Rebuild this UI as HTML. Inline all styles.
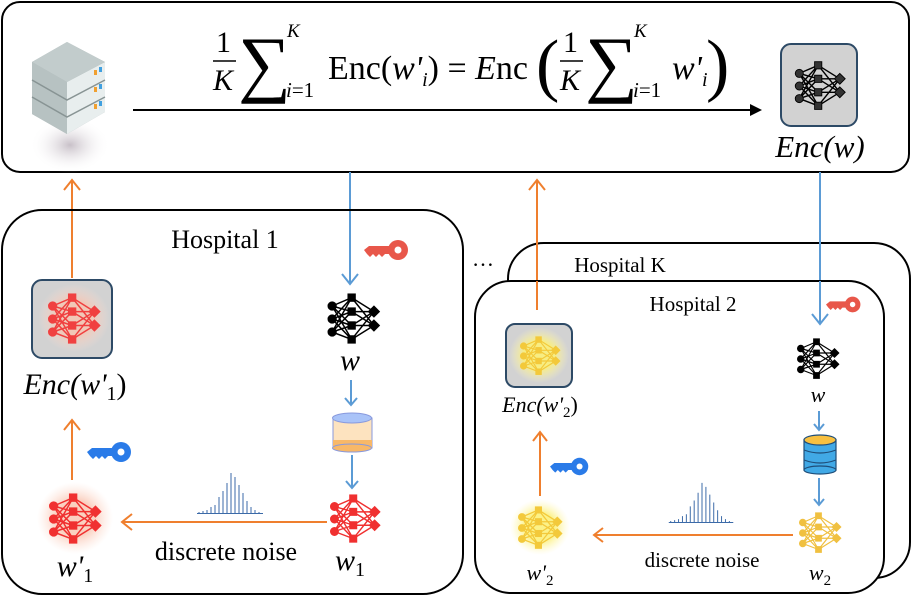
<!DOCTYPE html>
<html><head><meta charset="utf-8"><style>
body{margin:0;background:#fff}
svg text{font-family:"Liberation Serif",serif}
.m{font-family:"Liberation Serif",serif;font-style:italic}
.u{font-family:"Liberation Serif",serif;font-style:normal}
</style></head><body>
<svg width="913" height="596" viewBox="0 0 913 596" xmlns="http://www.w3.org/2000/svg">
<defs>
<symbol id="nn" viewBox="0 0 60 56">
<g stroke-width="1.6" fill="none">
<path d="M7 14L28 5M7 14L28 20M7 14L28 35M7 14L28 50M7 28L28 5M7 28L28 20M7 28L28 35M7 28L28 50M7 42L28 5M7 42L28 20M7 42L28 35M7 42L28 50M28 5L52 20M28 20L52 20M28 35L52 20M28 50L52 20M28 5L52 35M28 20L52 35M28 35L52 35M28 50L52 35"/>
</g>
<circle cx="7" cy="14" r="4.5"/><circle cx="7" cy="28" r="4.5"/><circle cx="7" cy="42" r="4.5"/>
<rect x="24" y="1" width="8" height="8"/><rect x="24" y="16" width="8" height="8"/><rect x="24" y="31" width="8" height="8"/><rect x="24" y="46" width="8" height="8"/>
<path d="M52 14l6 6-6 6-6-6z M52 29l6 6-6 6-6-6z"/>
</symbol>
<symbol id="key" viewBox="0 0 46 24">
<circle cx="34" cy="12" r="10"/><circle cx="34" cy="12" r="3.5" fill="#fff"/>
<path d="M0 12l5-4h22v8h-6l-3 3-3-3-3 3-3-3-3 3-3-3z"/>
</symbol>
<symbol id="hist" viewBox="0 0 68 44">
<g stroke="#3b6aa8" stroke-width="1">
<path d="M2 43v-1M6 43v-2M10 43v-3M14 43v-6M18 43v-8M22 43v-16M26 43v-22M30 43v-30M34 43v-40M38 43v-36M42 43v-28M46 43v-20M50 43v-12M54 43v-6M58 43v-3M62 43v-1M0 43.5h66"/>
</g>
</symbol>
<radialGradient id="glowR"><stop offset="0.5" stop-color="#f9c4b0" stop-opacity="0.8"/><stop offset="1" stop-color="#fde0d4" stop-opacity="0"/></radialGradient>
<radialGradient id="glowY"><stop offset="0.5" stop-color="#fbf07a" stop-opacity="0.9"/><stop offset="1" stop-color="#fff8c0" stop-opacity="0"/></radialGradient>
<radialGradient id="sg"><stop offset="0" stop-color="#c8c0c8"/><stop offset="1" stop-color="#fff" stop-opacity="0"/></radialGradient>
</defs>

<rect x="2" y="2" width="907" height="170" rx="18" fill="#fff" stroke="#000" stroke-width="2"/>
<ellipse cx="70" cy="145" rx="40" ry="28" fill="url(#sg)"/>
<g>
<path d="M32 62l35-20 38 20v50l-38 22-35-20z" fill="#a8b4b4"/>
<path d="M32 62l35 20v52l-35-20z" fill="#b7c2c2"/>
<path d="M67 82l38-20v50l-38 22z" fill="#e8eeee"/>
<path d="M32 62l35-20 38 20-38 20z" fill="#c2cccc"/>
<path d="M32 80l35 20 38-20M32 97l35 20 38-20" stroke="#889494" stroke-width="1.5" fill="none"/>
<rect x="94" y="70" width="3" height="5" fill="#f0a030"/><rect x="99" y="67" width="3" height="5" fill="#40a0e0"/>
<rect x="94" y="87" width="3" height="5" fill="#f0a030"/><rect x="99" y="84" width="3" height="5" fill="#40a0e0"/>
<rect x="94" y="104" width="3" height="5" fill="#f0a030"/><rect x="99" y="101" width="3" height="5" fill="#40a0e0"/>
</g>
<g font-size="30">
<text x="216" y="52" class="u">1</text>
<line x1="213" y1="61" x2="236" y2="61" stroke="#000" stroke-width="1.5"/>
<text x="213" y="90" class="m">K</text>
<text x="238" y="88" class="u" font-size="74">∑</text>
<text x="287" y="37" class="m" font-size="19">K</text>
<text x="286" y="97" class="m" font-size="21">i<tspan class="u">=1</tspan></text>
<text x="328" y="79" class="u" font-size="34" textLength="200" lengthAdjust="spacingAndGlyphs">Enc(<tspan class="m">w'</tspan><tspan class="m" font-size="20" dy="7">i</tspan><tspan dy="-7">) = </tspan><tspan class="m">E</tspan>nc</text>
<text x="536" y="88" class="u" font-size="70">(</text>
<text x="563" y="52" class="u">1</text>
<line x1="560" y1="61" x2="583" y2="61" stroke="#000" stroke-width="1.5"/>
<text x="560" y="90" class="m">K</text>
<text x="585" y="88" class="u" font-size="74">∑</text>
<text x="634" y="37" class="m" font-size="19">K</text>
<text x="633" y="97" class="m" font-size="21">i<tspan class="u">=1</tspan></text>
<text x="672" y="79" class="m" font-size="34">w'<tspan font-size="20" dy="7">i</tspan></text>
<text x="706" y="88" class="u" font-size="70">)</text>
</g>
<line x1="133" y1="110" x2="752" y2="110" stroke="#000" stroke-width="2"/>
<path d="M762 110l-12-6v12z" fill="#000"/>
<rect x="781" y="44" width="76" height="82" rx="10" fill="#d2d2d2" stroke="#2d4a66" stroke-width="2"/>
<use href="#nn" x="793" y="57" width="54" height="58" fill="#333" stroke="#000"/>
<text x="820" y="157" class="m" font-size="31" text-anchor="middle">Enc(w)</text>

<g stroke-width="2" fill="none">
<path d="M72 278V180M64 190l8-10 8 10" stroke="#ef7f2e"/>
<path d="M350 172V284M342 274l8 10 8-10" stroke="#5b9bd5"/>
<path d="M537 310V180M529 190l8-10 8 10" stroke="#ef7f2e"/>
<path d="M820 172V324M812 314l8 10 8-10" stroke="#5b9bd5"/>
</g>

<rect x="2" y="210" width="461" height="384" rx="40" fill="none" stroke="#000" stroke-width="2"/>
<text x="225" y="248" font-size="26" text-anchor="middle">Hospital 1</text>
<use href="#key" x="364" y="238" width="46" height="24" fill="#e8574a"/>
<use href="#nn" x="325" y="293" width="57" height="52" fill="#000" stroke="#000"/>
<text x="350" y="370" class="m" font-size="30" text-anchor="middle">w</text>
<path d="M351 380V405M345 398l6 7 6-7" stroke="#5b9bd5" stroke-width="2" fill="none"/>
<g>
<rect x="333" y="418" width="39" height="30" fill="#fde3bf" stroke="#8899dd"/>
<rect x="333" y="440" width="39" height="8" fill="#f8b868"/>
<ellipse cx="352" cy="448" rx="19.5" ry="4" fill="#f8b868" stroke="#8899dd"/>
<ellipse cx="352" cy="418" rx="19.5" ry="5" fill="#a9c3f8" stroke="#8899dd"/>
</g>
<path d="M352 455V488M346 481l6 7 6-7" stroke="#5b9bd5" stroke-width="2" fill="none"/>
<use href="#nn" x="328" y="494" width="54" height="50" fill="#f03030" stroke="#f03030"/>
<text x="350" y="570" class="m" font-size="30" text-anchor="middle">w<tspan class="u" font-size="20" dy="6">1</tspan></text>
<rect x="32" y="280" width="80" height="78" rx="10" fill="#d2d2d2" stroke="#2d4a66" stroke-width="2"/>
<ellipse cx="74" cy="318" rx="36" ry="34" fill="url(#glowR)"/>
<use href="#nn" x="45" y="293" width="58" height="52" fill="#f04040" stroke="#f04040"/>
<text x="75" y="394" class="m" font-size="30" text-anchor="middle">Enc(w'<tspan class="u" font-size="20" dy="6">1</tspan><tspan class="u" dy="-6">)</tspan></text>
<path d="M72 480V420M64 430l8-10 8 10" stroke="#ef7f2e" stroke-width="2" fill="none"/>
<use href="#key" x="87" y="440" width="46" height="24" fill="#2a7be8"/>
<ellipse cx="75" cy="518" rx="38" ry="36" fill="url(#glowR)"/>
<use href="#nn" x="45" y="493" width="60" height="52" fill="#f03030" stroke="#f03030"/>
<text x="75" y="576" class="m" font-size="30" text-anchor="middle">w'<tspan class="u" font-size="20" dy="6">1</tspan></text>
<path d="M327 522H122M132 514l-10 8 10 8" stroke="#ef7f2e" stroke-width="2" fill="none"/>
<use href="#hist" x="197" y="470" width="68" height="44"/>
<text x="226" y="560" font-size="26" text-anchor="middle">discrete noise</text>

<text x="472" y="266" font-size="22">…</text>
<rect x="508" y="243" width="402" height="335" rx="36" fill="#fff" stroke="#000" stroke-width="2"/>
<text x="620" y="272" font-size="21" text-anchor="middle">Hospital K</text>
<path d="M537 242V282" stroke="#ef7f2e" stroke-width="2"/>
<path d="M820 242V282" stroke="#5b9bd5" stroke-width="2"/>
<rect x="475" y="281" width="409" height="312" rx="36" fill="#fff" stroke="#000" stroke-width="2"/>
<text x="693" y="311" font-size="21" text-anchor="middle">Hospital 2</text>
<path d="M537 281V310" stroke="#ef7f2e" stroke-width="2"/>
<path d="M820 281V324M812 314l8 10 8-10" stroke="#5b9bd5" stroke-width="2" fill="none"/>
<use href="#key" x="826" y="295" width="36" height="19" fill="#e8574a"/>
<use href="#nn" x="795" y="338" width="46" height="42" fill="#000" stroke="#000"/>
<text x="818" y="402" class="m" font-size="22" text-anchor="middle">w</text>
<path d="M819 411V430M814 424l5 6 5-6" stroke="#5b9bd5" stroke-width="2" fill="none"/>
<g stroke="#1f4e79" stroke-width="1.2">
<rect x="804" y="440" width="32" height="30" fill="#41a9e6"/>
<ellipse cx="820" cy="470" rx="16" ry="4" fill="#41a9e6"/>
<path d="M804 450q16 6 32 0M804 460q16 6 32 0" fill="none"/>
<ellipse cx="820" cy="440" rx="16" ry="5" fill="#f8c040"/>
</g>
<path d="M819 478V505M814 499l5 6 5-6" stroke="#5b9bd5" stroke-width="2" fill="none"/>
<use href="#nn" x="797" y="512" width="46" height="42" fill="#f0c040" stroke="#f0c040"/>
<text x="820" y="580" class="m" font-size="22" text-anchor="middle">w<tspan class="u" font-size="15" dy="5">2</tspan></text>
<rect x="506" y="324" width="66" height="63" rx="9" fill="#d2d2d2" stroke="#2d4a66" stroke-width="2"/>
<ellipse cx="539" cy="355" rx="30" ry="28" fill="url(#glowY)"/>
<use href="#nn" x="518" y="336" width="44" height="40" fill="#f3c93a" stroke="#f3c93a"/>
<text x="540" y="412" class="m" font-size="22" text-anchor="middle">Enc(w'<tspan class="u" font-size="15" dy="5">2</tspan><tspan class="u" dy="-5">)</tspan></text>
<path d="M540 496V432M533 441l7-9 7 9" stroke="#ef7f2e" stroke-width="2" fill="none"/>
<use href="#key" x="550" y="456" width="40" height="21" fill="#2a7be8"/>
<ellipse cx="540" cy="527" rx="30" ry="28" fill="url(#glowY)"/>
<use href="#nn" x="515" y="506" width="50" height="44" fill="#f3c93a" stroke="#f3c93a"/>
<text x="540" y="580" class="m" font-size="22" text-anchor="middle">w'<tspan class="u" font-size="15" dy="5">2</tspan></text>
<path d="M793 535H594M603 528l-9 7 9 7" stroke="#ef7f2e" stroke-width="2" fill="none"/>
<use href="#hist" x="668" y="480" width="68" height="43"/>
<text x="702" y="567" font-size="21" text-anchor="middle">discrete noise</text>
</svg>
</body></html>
